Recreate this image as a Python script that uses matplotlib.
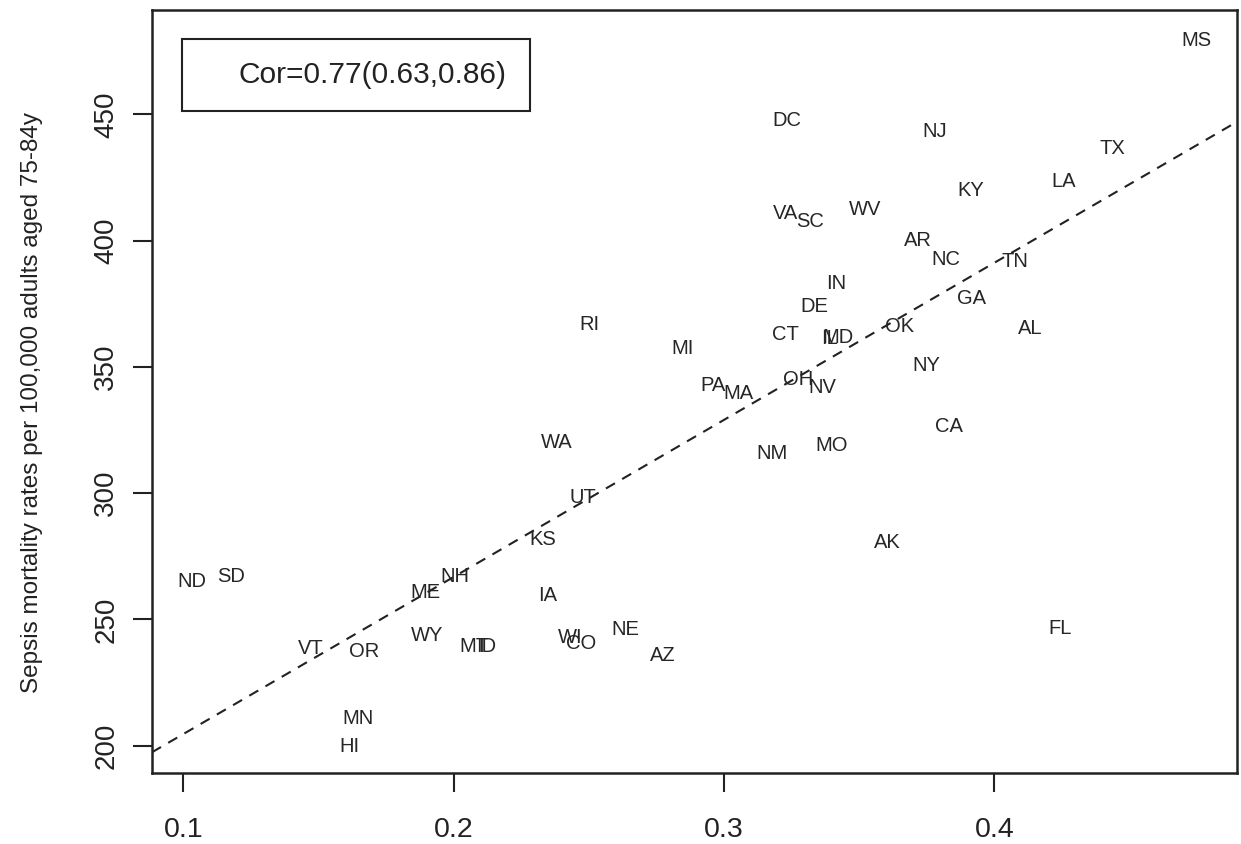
import numpy as np
import matplotlib
matplotlib.use("Agg")
import matplotlib.pyplot as plt
from matplotlib.patches import Rectangle

plt.rcParams['font.family'] = ['Liberation Sans', 'DejaVu Sans']

states = ["MS", "DC", "NJ", "TX", "KY", "LA", "VA", "SC", "WV", "AR", "NC", "TN",
          "IN", "GA", "DE", "RI", "OK", "AL", "CT", "IL", "MD", "MI", "PA", "MA",
          "OH", "NV", "NY", "CA", "WA", "NM", "MO", "UT", "KS", "AK", "ND", "SD",
          "NH", "ME", "IA", "WY", "MT", "ID", "VT", "OR", "WI", "CO", "NE", "AZ",
          "FL", "MN", "HI"]
xvals = [0.4749, 0.3233, 0.3780, 0.4438, 0.3913, 0.4257, 0.3229, 0.3318, 0.3521, 0.3717, 0.3821, 0.4076,
         0.3414, 0.3917, 0.3336, 0.2501, 0.3651, 0.4131, 0.3229, 0.3390, 0.3420, 0.2845, 0.2959, 0.3055,
         0.3274, 0.3362, 0.3747, 0.3832, 0.2383, 0.3177, 0.3399, 0.2479, 0.2331, 0.3603, 0.1033, 0.1177,
         0.2006, 0.1895, 0.2346, 0.1902, 0.2076, 0.2120, 0.1473, 0.1669, 0.2431, 0.2471, 0.2634, 0.2774,
         0.4242, 0.1647, 0.1614]
yvals = [480.1, 448.4, 444.1, 437.3, 420.7, 424.2, 411.5, 408.4, 413.2, 400.9, 393.3, 392.6,
         383.8, 377.9, 374.7, 367.6, 366.8, 366.0, 363.6, 362.0, 362.4, 358.1, 343.4, 340.3,
         345.8, 342.6, 351.3, 327.2, 320.8, 316.5, 319.7, 299.0, 282.4, 281.2, 265.8, 267.7,
         267.7, 261.4, 260.2, 244.4, 240.0, 240.0, 239.2, 238.0, 243.6, 241.2, 246.8, 236.5,
         247.1, 211.5, 200.4]

xticks = [0.1, 0.2, 0.3, 0.4]
yticks = [200, 250, 300, 350, 400, 450]
ylabel = "Sepsis mortality rates per 100,000 adults aged 75-84y"
legend_text = "Cor=0.77(0.63,0.86)"

fig = plt.figure(figsize=(12.41, 8.44), dpi=100)
ax = fig.add_axes([152/1241, 71/844, (1237-152)/1241, (773-10)/844])

for s, x, y in zip(states, xvals, yvals):
    ax.text(x, y, s, ha='center', va='center_baseline', fontsize=14.5, color='#262626')

# regression line
slope, intercept = np.polyfit(xvals, yvals, 1)
ax.axline((0.0, intercept), slope=slope, color='#222222', lw=1.5, ls=(0, (5, 4)))

xr = (min(xvals), max(xvals))
yr = (min(yvals), max(yvals))
dx = 0.04 * (xr[1] - xr[0])
dy = 0.04 * (yr[1] - yr[0])
ax.set_xlim(xr[0] - dx, xr[1] + dx)
ax.set_ylim(yr[0] - dy, yr[1] + dy)

ax.set_xticks(xticks)
ax.set_xticklabels([str(t) for t in xticks], fontsize=20.5, color='#222222')
ax.set_yticks(yticks)
ax.set_yticklabels([str(t) for t in yticks], fontsize=20, color='#222222',
                   rotation=90, va='center')
ax.tick_params(axis='both', length=13.5, width=1.5, color='#222222')
ax.tick_params(axis='x', pad=18)
ax.tick_params(axis='y', pad=10)
ax.set_ylabel(ylabel, fontsize=17.5, color='#222222')
ax.yaxis.set_label_coords(-0.1005, 0.4856)

for sp in ax.spines.values():
    sp.set_linewidth(1.8)
    sp.set_color('#222222')

# legend box
ax.add_patch(Rectangle((0.0276, 0.868), 0.321, 0.094, transform=ax.transAxes,
                       fill=False, lw=1.5, ec='#222222'))
ax.text(0.203, 0.915, legend_text, transform=ax.transAxes, ha='center', va='center',
        fontsize=21.5, color='#222222')

fig.savefig("out.png", dpi=100)
